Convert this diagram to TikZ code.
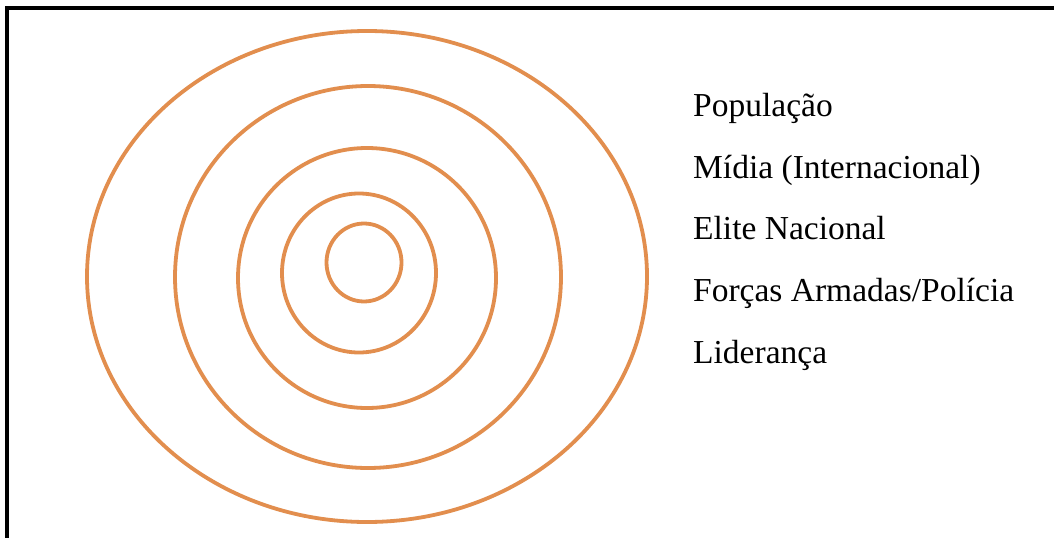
\documentclass[tikz,border=0pt]{standalone}
\usepackage{fontspec}
\setmainfont{Liberation Serif}
\definecolor{ring}{RGB}{226,142,78}
\begin{document}
\begin{tikzpicture}[x=1pt,y=-1pt,
  ringline/.style={draw=ring,line width=3.8pt},
  frameline/.style={draw=black,line width=3.2pt},
  label/.style={anchor=base west,inner sep=0pt,font=\fontsize{33.5}{33.5}\selectfont}]
\useasboundingbox (0,0) rectangle (1054,538);
\fill[white] (0,0) rectangle (1054,538);
% frame
\coordinate (tl) at (7,8);
\coordinate (tr) at (1054,8);
\coordinate (bl) at (7,538);
\draw[frameline] (tr) -- (tl) -- (bl);
% rings
\draw[ringline] (367,276.5) ellipse [x radius=280, y radius=245.5];
\draw[ringline] (368,277) ellipse [x radius=193, y radius=191];
\draw[ringline] (367,278) ellipse [x radius=129, y radius=130];
\draw[ringline] (359,273) ellipse [x radius=77, y radius=79.5];
\draw[ringline] (364,262.5) ellipse [x radius=37.5, y radius=39];
% labels
\node[label] (pop) at (693,116) {População};
\node[label] (mid) at (693,178) {Mídia (Internacional)};
\node[label] (eli) at (693,239) {Elite Nacional};
\node[label] (for) at (693,301) {Forças Armadas/Polícia};
\node[label] (lid) at (693,363) {Liderança};
\end{tikzpicture}
\end{document}
